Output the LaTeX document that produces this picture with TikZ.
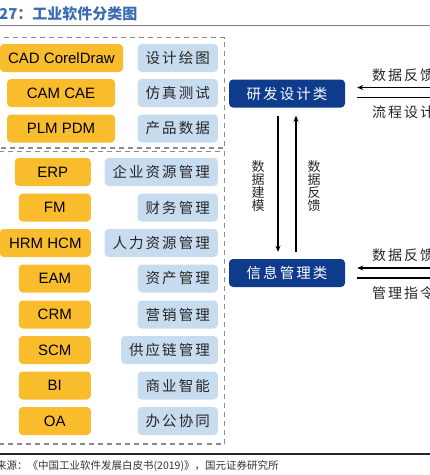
\documentclass[tikz,border=0pt]{standalone}
\usepackage{fontspec}
\setmainfont{Liberation Sans}
\newfontfamily\cjk{Noto Sans CJK SC}
\newfontfamily\cjkw{Noto Sans CJK SC}[LetterSpace=14]
\usetikzlibrary{arrows.meta,positioning}
\definecolor{swgold}{HTML}{F9BC2D}
\definecolor{fnblue}{HTML}{C8DCF0}
\definecolor{clsnavy}{HTML}{0E3B8C}
\definecolor{titleblue}{HTML}{3B6CB3}
\definecolor{dashgray}{HTML}{8C8C8C}

\begin{document}
\begin{tikzpicture}[x=1pt,y=-1pt,>={Stealth[length=6pt,width=5pt]},
 sw/.style={fill=swgold,rounded corners=4pt,minimum height=28pt,inner xsep=8pt,font=\fontsize{15}{15}\selectfont},
 fn/.style={fill=fnblue,rounded corners=4pt,minimum height=28pt,inner xsep=8pt,anchor=east,text=black!85,font=\cjkw\fontsize{14.5}{15}\selectfont},
 cls/.style={fill=clsnavy,rounded corners=4pt,minimum height=28pt,minimum width=116pt,text=white,font=\cjkw\fontsize{14.5}{15}\selectfont},
 vlab/.style={align=center,inner sep=0pt,text=black!85,font=\cjk\fontsize{13}{13.2}\selectfont},
 rlab/.style={anchor=west,inner sep=0pt,text=black!85,font=\cjkw\fontsize{14}{14}\selectfont},
 dashbox/.style={draw=dashgray,line width=1.3pt,dash pattern=on 5pt off 4pt},
 arr/.style={->,line width=1.6pt}]
\useasboundingbox (0,0) rectangle (430,475);
% heading
\node[anchor=west,inner sep=0pt,text=titleblue,font=\cjk\bfseries\fontsize{15}{15}\selectfont] (title) at (-1,14) {27：工业软件分类图};
\draw[line width=1.6pt,draw=black!50] (0,25.5) -- (430,25.5);
% groups
\draw[dashbox] (-5,37.5) rectangle (224.5,148);
\draw[dashbox] (-5,151.5) rectangle (224.5,444);
% R&D software
\node[sw,minimum width=123pt] (cad) at (61.5,58) {CAD CorelDraw};
\node[sw,minimum width=108pt] (cam) at (61,93) {CAM CAE};
\node[sw,minimum width=108pt] (plm) at (61,128.5) {PLM PDM};
\node[fn] (drawing) at (218,58) {设计绘图};
\node[fn] (simul) at (218,93) {仿真测试};
\node[fn] (proddata) at (218,128.5) {产品数据};
% management software
\node[sw,anchor=east,minimum width=76pt] (erp) at (91,172) {ERP};
\node[sw,anchor=east,minimum width=72pt] (fm) at (91,207.5) {FM};
\node[sw,anchor=east,minimum width=91pt] (hrm) at (91,243) {HRM HCM};
\node[sw,anchor=east,minimum width=72pt] (eam) at (91,278.5) {EAM};
\node[sw,anchor=east,minimum width=72pt] (crm) at (91,314.5) {CRM};
\node[sw,anchor=east,minimum width=72pt] (scm) at (91,350) {SCM};
\node[sw,anchor=east,minimum width=72pt] (bi) at (91,385.5) {BI};
\node[sw,anchor=east,minimum width=72pt] (oa) at (91,421) {OA};
\node[fn] (resource) at (218,172) {企业资源管理};
\node[fn] (finance) at (218,207.5) {财务管理};
\node[fn] (human) at (218,243) {人力资源管理};
\node[fn] (asset) at (218,278.5) {资产管理};
\node[fn] (market) at (218,314.5) {营销管理};
\node[fn] (supply) at (218,350) {供应链管理};
\node[fn] (intel) at (218,385.5) {商业智能};
\node[fn] (office) at (218,421) {办公协同};
% classes
\node[cls] (rd) at (287,93.5) {研发设计类};
\node[cls] (info) at (287,273) {信息管理类};
\draw[arr] ([xshift=-9pt,yshift=-8pt]rd.south) -- ([xshift=-9pt,yshift=7pt]info.north);
\draw[arr] ([xshift=9pt,yshift=7pt]info.north) -- ([xshift=9pt,yshift=-8pt]rd.south);
\node[vlab] (model) at (258,186) {数\\据\\建\\模};
\node[vlab] (feedup) at (314,186) {数\\据\\反\\馈};
\draw[arr] ([xshift=100pt,yshift=6pt]rd.east) -- ([xshift=12pt,yshift=6pt]rd.east);
\draw[arr] ([xshift=12pt,yshift=-4pt]rd.east) -- ([xshift=100pt,yshift=-4pt]rd.east);
\draw[arr] ([xshift=100pt,yshift=5pt]info.east) -- ([xshift=12pt,yshift=5pt]info.east);
\draw[arr] ([xshift=12pt,yshift=-5pt]info.east) -- ([xshift=100pt,yshift=-5pt]info.east);
\node[rlab] (rdfeed) at (372,75) {数据反馈};
\node[rlab] (flow) at (372,112) {流程设计};
\node[rlab] (infofeed) at (372,255) {数据反馈};
\node[rlab] (command) at (372,293) {管理指令};
% source
\draw[line width=1.4pt,draw=black!85] (0,454) -- (430,454);
\node[anchor=west,inner sep=0pt,text=black!80,font=\cjk\fontsize{10.5}{11}\selectfont] (source) at (-4,466) {来源：《中国工业软件发展白皮书(2019)》，国元证券研究所};
\end{tikzpicture}
\end{document}
